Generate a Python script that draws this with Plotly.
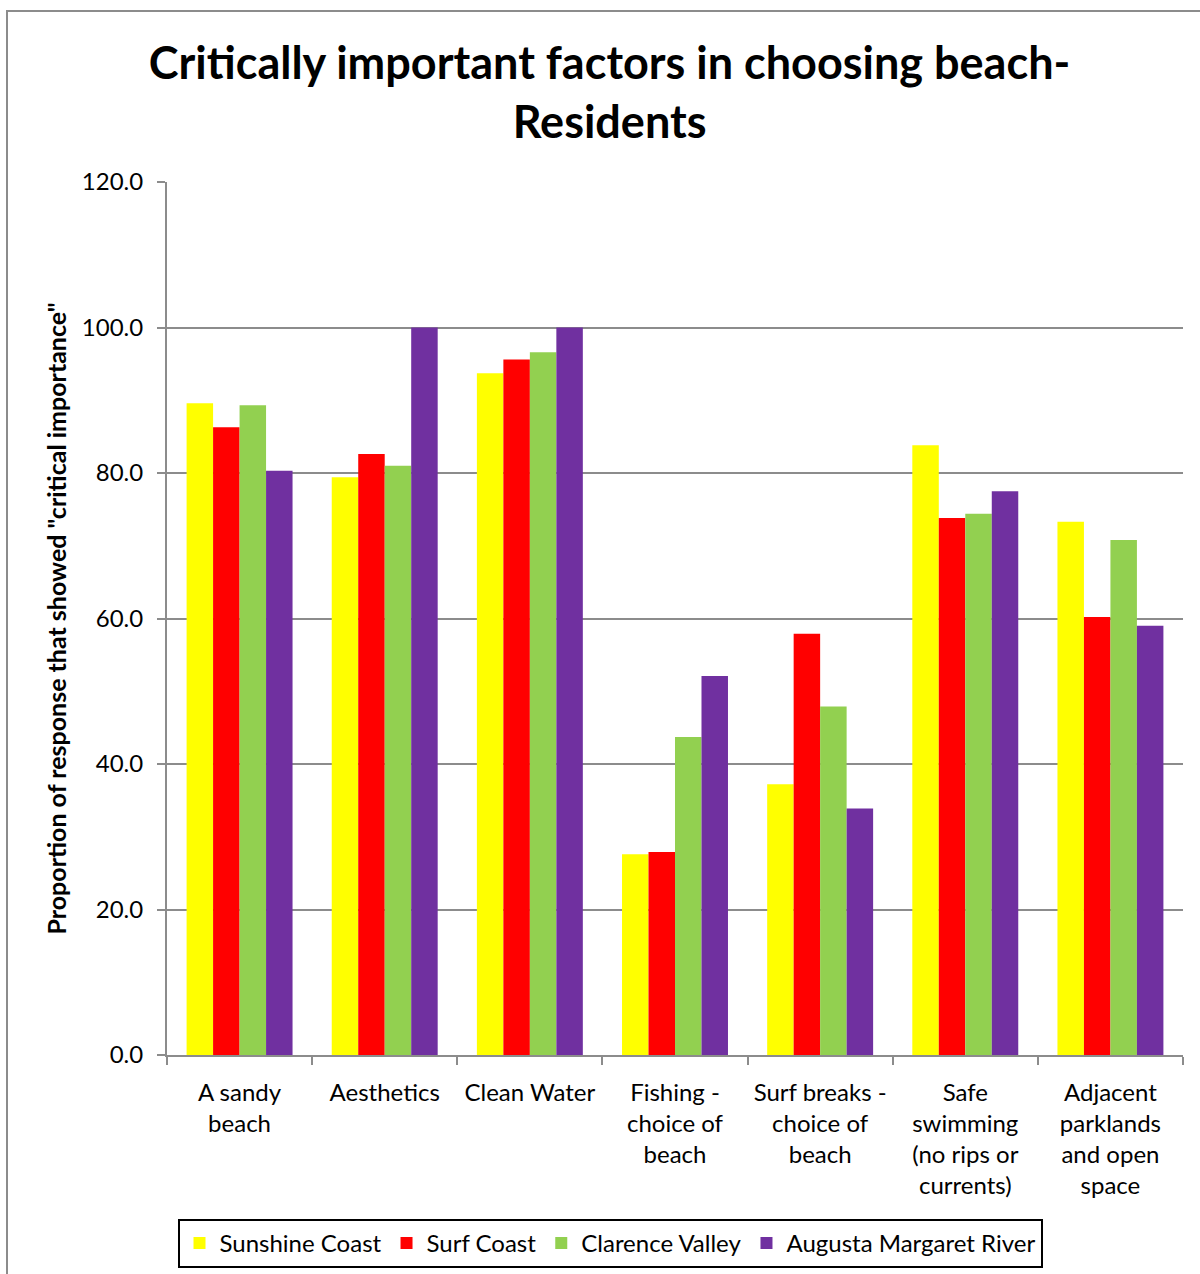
import plotly.graph_objects as go

# Survey factors (x categories) and share of residents rating each "critical"
categories = [
    "A sandy<br>beach",
    "Aesthetics",
    "Clean Water",
    "Fishing -<br>choice of<br>beach",
    "Surf breaks -<br>choice of<br>beach",
    "Safe<br>swimming<br>(no rips or<br>currents)",
    "Adjacent<br>parklands<br>and open<br>space",
]

sunshine_coast = [89.6, 79.4, 93.7, 27.6, 37.2, 83.8, 73.3]
surf_coast = [86.3, 82.6, 95.6, 27.9, 57.9, 73.8, 60.2]
clarence_valley = [89.3, 81.0, 96.6, 43.7, 47.9, 74.4, 70.8]
augusta_margaret_river = [80.3, 100.0, 100.0, 52.1, 33.9, 77.5, 59.0]

series_names = ["Sunshine Coast", "Surf Coast", "Clarence Valley", "Augusta Margaret River"]
series_values = [sunshine_coast, surf_coast, clarence_valley, augusta_margaret_river]
series_colors = ["#FFFF00", "#FF0000", "#92D050", "#7030A0"]

y_ticks = [0, 20, 40, 60, 80, 100, 120]
y_tick_labels = [f"{v:.1f}" for v in y_ticks]

FONT = "Lato, 'Open Sans', sans-serif"

fig = go.Figure()
for name, vals, col in zip(series_names, series_values, series_colors):
    fig.add_trace(go.Bar(
        name=name, x=categories, y=vals,
        marker=dict(color=col, line=dict(width=0)),
    ))

W, H = 1200, 1274
L, R, T, B = 167, 17, 182, 219
pw, ph = W - L - R, H - T - B


def px_x(px):
    return (px - L) / pw


def px_y(py):
    return (H - B - py) / ph


fig.update_layout(
    width=W, height=H,
    margin=dict(l=L, r=R, t=T, b=B, autoexpand=False),
    paper_bgcolor="white", plot_bgcolor="white",
    barmode="group", bargap=0.27, bargroupgap=0,
    font=dict(family=FONT, color="black", size=24),
    title=dict(
        text="<b>Critically important factors in choosing beach-<br>Residents</b>",
        x=0.508, xanchor="center", xref="container",
        y=1 - 79 / H, yanchor="middle", yref="container",
        font=dict(family=FONT, size=45, color="black"),
        automargin=False,
    ),
    xaxis=dict(
        type="category",
        automargin=False,
        showgrid=False,
        showline=True, linecolor="#8c8c8c", linewidth=2,
        ticks="outside", ticklen=8, tickcolor="#8c8c8c", tickwidth=2,
        tickson="boundaries",
        ticklabelstandoff=15,
        tickfont=dict(size=24, family=FONT),
    ),
    yaxis=dict(
        range=[0, 120],
        automargin=False,
        tickvals=y_ticks, ticktext=y_tick_labels,
        showgrid=True, gridcolor="#8c8c8c", gridwidth=2,
        showline=True, linecolor="#8c8c8c", linewidth=2,
        ticks="outside", ticklen=8, tickcolor="#8c8c8c", tickwidth=2,
        ticklabelstandoff=9,
        tickfont=dict(size=24, family=FONT),
        zeroline=False,
        title=dict(
            text='<b>Proportion of response that showed "critical importance"</b>',
            font=dict(size=25, family=FONT),
            standoff=8,
        ),
    ),
    legend=dict(
        orientation="h",
        x=px_x(610), xanchor="center",
        y=px_y(1219), yanchor="top",
        bordercolor="black", borderwidth=2,
        bgcolor="white",
        font=dict(size=24, family=FONT),
        itemsizing="constant",
        traceorder="normal",
    ),
    shapes=[
        dict(
            type="rect", xref="paper", yref="paper",
            x0=px_x(7), x1=px_x(1210), y0=px_y(1290), y1=px_y(11),
            line=dict(color="#8c8c8c", width=2), fillcolor="rgba(0,0,0,0)",
            layer="below",
        )
    ],
)

fig.write_html("out.html")
